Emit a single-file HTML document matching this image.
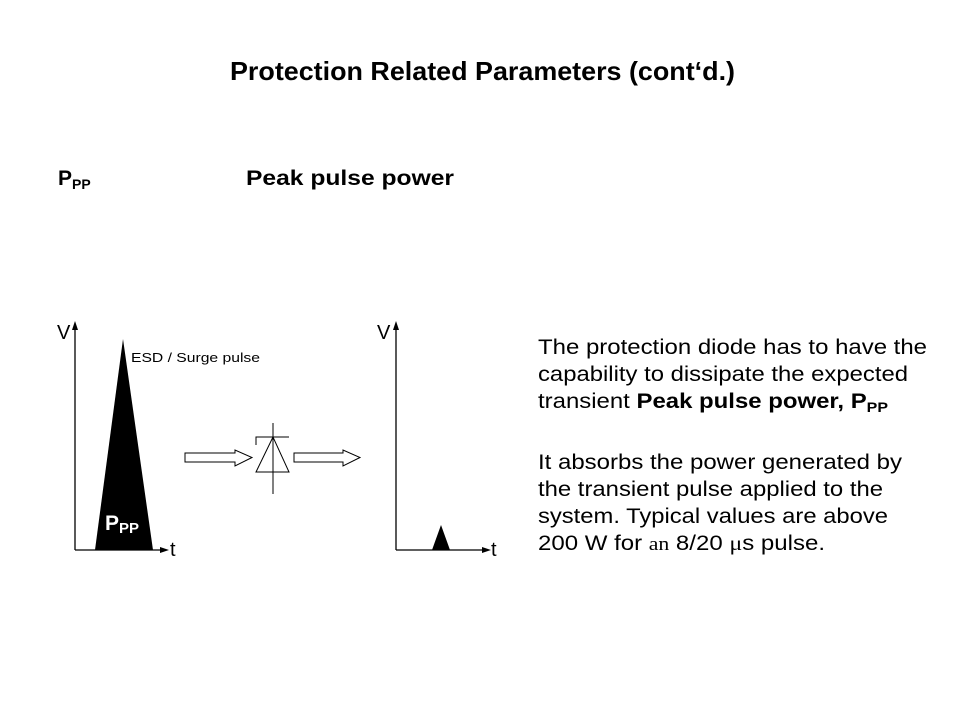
<!DOCTYPE html>
<html><head><meta charset="utf-8"><style>
html,body{margin:0;padding:0;background:#fff;}
svg{display:block;}
text{font-family:"Liberation Sans",Arial,sans-serif;fill:#000;}
</style></head><body>
<svg width="960" height="720" viewBox="0 0 960 720" xmlns="http://www.w3.org/2000/svg">
<rect width="960" height="720" fill="#fff"/>
<text x="230" y="80" font-size="26" font-weight="bold" textLength="505" lengthAdjust="spacingAndGlyphs">Protection Related Parameters (cont‘d.)</text>
<text x="58" y="185" font-size="21" font-weight="bold">P<tspan font-size="14" dy="4">PP</tspan></text>
<text x="246" y="185" font-size="21" font-weight="bold" textLength="208" lengthAdjust="spacingAndGlyphs">Peak pulse power</text>

<!-- left graph -->
<line x1="75" y1="550" x2="75" y2="328" stroke="#000" stroke-width="1.3"/>
<polygon points="75,321 72,330 78,330" fill="#000"/>
<line x1="75" y1="550" x2="162" y2="550" stroke="#000" stroke-width="1.3"/>
<polygon points="169,550 160,547 160,553" fill="#000"/>
<polygon points="123,339 95,550 153,550" fill="#000"/>
<text x="57" y="339" font-size="20">V</text>
<text x="170" y="556" font-size="20">t</text>
<text x="105" y="530" font-size="21" font-weight="bold" style="fill:#fff">P<tspan font-size="15" dy="3">PP</tspan></text>
<text x="131" y="362" font-size="13" textLength="129" lengthAdjust="spacingAndGlyphs">ESD / Surge pulse</text>

<!-- arrows -->
<polygon points="185,453 235,453 235,450 252,457.5 235,466 235,462 185,462" fill="#fff" stroke="#000" stroke-width="1"/>
<polygon points="294,453 343,453 343,450 360,457.5 343,466 343,462 294,462" fill="#fff" stroke="#000" stroke-width="1"/>
<!-- diode -->
<line x1="273" y1="423" x2="273" y2="494" stroke="#000" stroke-width="1"/>
<polyline points="256,445 256,437 289,437" fill="none" stroke="#000" stroke-width="1"/>
<polygon points="273,437 256,472 289,472" fill="none" stroke="#000" stroke-width="1"/>

<!-- right graph -->
<line x1="396" y1="550" x2="396" y2="328" stroke="#000" stroke-width="1.3"/>
<polygon points="396,321 393,330 399,330" fill="#000"/>
<line x1="396" y1="550" x2="484" y2="550" stroke="#000" stroke-width="1.3"/>
<polygon points="491,550 482,547 482,553" fill="#000"/>
<polygon points="441,525 432,550 450,550" fill="#000"/>
<text x="377" y="339" font-size="20">V</text>
<text x="491" y="556" font-size="20">t</text>

<!-- right text -->
<g font-size="21">
<text x="538" y="354" textLength="389" lengthAdjust="spacingAndGlyphs">The protection diode has to have the</text>
<text x="538" y="381" textLength="370" lengthAdjust="spacingAndGlyphs">capability to dissipate the expected</text>
<text x="538" y="408" textLength="350" lengthAdjust="spacingAndGlyphs">transient <tspan font-weight="bold">Peak pulse power, P</tspan><tspan font-weight="bold" font-size="14" dy="4">PP</tspan></text>
<text x="538" y="469" textLength="364" lengthAdjust="spacingAndGlyphs">It absorbs the power generated by</text>
<text x="538" y="496" textLength="345" lengthAdjust="spacingAndGlyphs">the transient pulse applied to the</text>
<text x="538" y="523" textLength="350" lengthAdjust="spacingAndGlyphs">system. Typical values are above</text>
<text x="538" y="550" textLength="287" lengthAdjust="spacingAndGlyphs">200 W for <tspan font-family="Liberation Serif,serif" font-size="19">an</tspan> 8/20 <tspan font-family="Liberation Serif,serif">μ</tspan>s pulse.</text>
</g>
</svg>
</body></html>
